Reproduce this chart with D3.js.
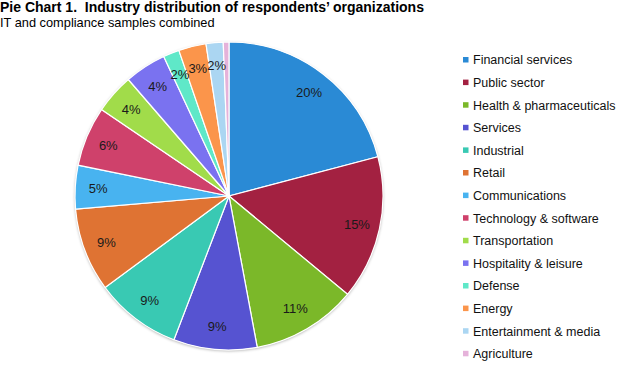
<!DOCTYPE html>
<html>
<head>
<meta charset="utf-8">
<script src="https://cdn.jsdelivr.net/npm/d3@7"></script>
<style>
  body { margin: 0; background: #fff; }
  text { font-family: "Liberation Sans", Arial, sans-serif; }
</style>
</head>
<body>
<svg id="chart" width="633" height="365"></svg>
<script>
(function(){
    // data
    var categories = ['Financial services', 'Public sector', 'Health & pharmaceuticals', 'Services',
        'Industrial', 'Retail', 'Communications', 'Technology & software', 'Transportation',
        'Hospitality & leisure', 'Defense', 'Energy', 'Entertainment & media', 'Agriculture'];
    var shares = [21.0, 15.2, 11.1, 8.8, 9.1, 8.8, 4.6, 6.3, 4.2, 4.4, 1.7, 2.9, 1.8, 0.6];
    var shownLabels = ['20%', '15%', '11%', '9%', '9%', '9%', '5%', '6%', '4%', '4%', '2%', '3%', '2%', ''];
    var colors = ['#2a8ad5', '#a32141', '#7bb829', '#5653d1', '#39c9b3', '#df7333', '#48b3f0',
        '#cf416b', '#a1dc4a', '#7a72f0', '#5fe8c8', '#fb954b', '#abd6f2', '#e5b2da'];

    var svg = d3.select('#chart');
    var cx = 229, cy = 196, R = 154;

    svg.append('text')
        .attr('x', 0).attr('y', 12)
        .style('font-size', '14px').style('font-weight', 'bold')
        .style('white-space', 'pre')
        .text('Pie Chart 1.  Industry distribution of respondents\u2019 organizations');
    svg.append('text')
        .attr('x', 0).attr('y', 27)
        .style('font-size', '12.8px')
        .text('IT and compliance samples combined');

    // soft shadow round the pie
    var defs = svg.append('defs');
    var f = defs.append('filter').attr('id', 'shadow')
        .attr('x', '-10%').attr('y', '-10%').attr('width', '120%').attr('height', '120%');
    f.append('feDropShadow').attr('dx', 0).attr('dy', 1).attr('stdDeviation', 1.5)
        .attr('flood-color', '#000').attr('flood-opacity', 0.35);

    var slices = shares.map(function(v, i){ return { name: categories[i], value: v, label: shownLabels[i], color: colors[i] }; });

    var pie = d3.pie().sort(null).value(function(d){ return d.value; });
    var arc = d3.arc().innerRadius(0).outerRadius(R);
    var labelArc = d3.arc().innerRadius(131).outerRadius(131);

    var g = svg.append('g').attr('transform', 'translate(' + cx + ',' + cy + ')');
    g.append('circle').attr('r', R).attr('fill', '#fff').attr('filter', 'url(#shadow)');

    var arcs = pie(slices);
    g.selectAll('path.slice')
        .data(arcs)
        .enter().append('path')
        .attr('class', 'slice')
        .attr('d', arc)
        .attr('fill', function(d){ return d.data.color; })
        .attr('stroke', '#fff')
        .attr('stroke-width', 1.2);

    g.selectAll('text.pct')
        .data(arcs)
        .enter().append('text')
        .attr('class', 'pct')
        .attr('transform', function(d){ return 'translate(' + labelArc.centroid(d) + ')'; })
        .attr('text-anchor', 'middle')
        .attr('dy', '0.35em')
        .style('font-size', '13px')
        .style('fill', '#1a1a1a')
        .text(function(d){ return d.data.label; });

    // legend
    var legend = svg.append('g').attr('transform', 'translate(463,60)');
    var row = legend.selectAll('g')
        .data(slices)
        .enter().append('g')
        .attr('transform', function(d, i){ return 'translate(0,' + (i * 22.6) + ')'; });
    row.append('rect')
        .attr('x', 0).attr('y', -3).attr('width', 5.5).attr('height', 5.5)
        .attr('fill', function(d){ return d.color; });
    row.append('text')
        .attr('x', 10).attr('y', 0).attr('dy', '0.35em')
        .style('font-size', '12.5px').style('fill', '#111')
        .text(function(d){ return d.name; });
})();
</script>
</body>
</html>
